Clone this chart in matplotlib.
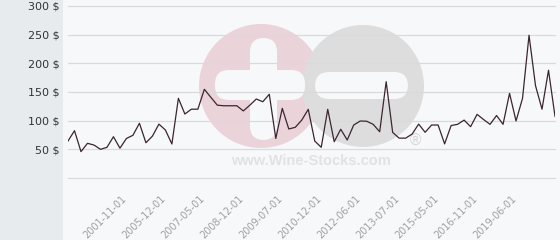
import matplotlib
matplotlib.use("Agg")
import matplotlib.pyplot as plt
import matplotlib.transforms as mtransforms
from matplotlib.patches import Ellipse, FancyBboxPatch, Rectangle

# DATA

prices = [
    64.5, 82.5, 46, 60.5, 57.5, 50, 53.5, 72, 52, 69,
    74.5, 95.5, 61.5, 73, 94, 83.7, 59.3, 139, 111.6, 120,
    120, 154.7, 140.7, 127, 126, 126, 126, 117, 127, 137.8,
    133, 146, 69, 121.5, 85.5, 88.4, 101, 119.8, 64.5, 53.5,
    119.8, 63.3, 85, 66.3, 92.4, 99.4, 99, 93.6, 80.7, 168,
    79.5, 69.5, 69.5, 76.7, 94, 79.7, 92.4, 92.4, 59.5, 91.5,
    93.6, 101, 89.5, 111, 102, 93.6, 109, 93.6, 147.7, 99.4,
    139, 249, 161, 120, 188, 107.5
]

tick_labels = [
    "2001-11-01", "2005-12-01", "2007-05-01", "2008-12-01",
    "2009-07-01", "2010-12-01", "2012-06-01", "2013-07-01",
    "2015-05-01", "2016-11-01", "2019-06-01"
]

y_ticks = [50, 100, 150, 200, 250, 300]

W, H = 560, 240


def px(x, y):
    # pixel (top-left origin) to figure fraction
    return x / W, 1 - y / H


def main():

    fig = plt.figure(figsize=(5.6, 2.4), dpi=100)
    fig.patch.set_facecolor("#f7f8fa")

    # LEFT PANEL

    fig.patches.append(
        Rectangle((0, 0), 63 / W, 1, transform=fig.transFigure,
                  facecolor="#e7ebee", edgecolor="none", zorder=-3)
    )

    ax = fig.add_axes([68 / W, 62 / H, 487 / W, 172 / H])
    ax.set_facecolor("none")

    # WATERMARK (behind the axes)

    def circ(cx, cy, r, color):
        x, y = px(cx, cy)
        fig.patches.append(
            Ellipse((x, y), 2 * r / W, 2 * r / H,
                    transform=fig.transFigure,
                    facecolor=color, edgecolor="none", zorder=-2)
        )

    def bar(x0, y0, x1, y1, color):
        fx0, fy1 = px(x0, y0)
        fx1, fy0 = px(x1, y1)
        fig.patches.append(
            FancyBboxPatch((fx0, fy0), fx1 - fx0, fy1 - fy0,
                           boxstyle="round,pad=0,rounding_size=0.025",
                           mutation_aspect=W / H,
                           transform=fig.transFigure,
                           facecolor=color, edgecolor="none", zorder=-1)
        )

    circ(261, 86, 62, "#ebd3da")
    circ(363, 86, 61, "#dddddd")
    bar(250, 38, 277, 140, "#f7f8fa")
    bar(215, 70, 305, 100, "#f7f8fa")
    bar(315, 72, 408, 99, "#f7f8fa")

    fig.text(*px(311, 161), "www.Wine-Stocks.com", ha="center",
             va="center", fontsize=10.5, fontweight="bold",
             family="Liberation Sans", color="#e2e2e2", zorder=-1)
    fig.text(*px(416, 140), "®", ha="center", va="center",
             fontsize=11, color="#d8d8d8", zorder=-1)

    # LINE

    x = list(range(len(prices)))

    ax.plot(x, prices, color="#3b2530", linewidth=0.9, zorder=5)

    ax.set_xlim(0, len(prices) - 1)
    ax.set_ylim(0, 300)

    ax.set_yticks([0] + y_ticks)
    ax.set_yticklabels([""] + [f"{v} $" for v in y_ticks])
    ax.grid(axis="y", color="#dadada", linewidth=0.9)
    for g in ax.yaxis.get_gridlines():
        g.set_clip_on(False)
    ax.set_axisbelow(True)

    ax.set_xticks([9 + 6 * i for i in range(len(tick_labels))])
    ax.set_xticklabels(tick_labels, rotation=45, ha="right",
                       rotation_mode="anchor")

    ax.tick_params(axis="x", length=0, pad=11, labelsize=7,
                   labelcolor="#a0a0a0")
    ax.tick_params(axis="y", length=0, pad=6, labelsize=8,
                   labelcolor="#333333")

    # shift date labels a little left
    shift = mtransforms.ScaledTranslation(-5 / 100, 0, fig.dpi_scale_trans)
    for lab in ax.get_xticklabels():
        lab.set_transform(lab.get_transform() + shift)

    for s in ax.spines.values():
        s.set_visible(False)

    fig.savefig("out.png", dpi=100, facecolor=fig.get_facecolor())


if __name__ == "__main__":

    main()
